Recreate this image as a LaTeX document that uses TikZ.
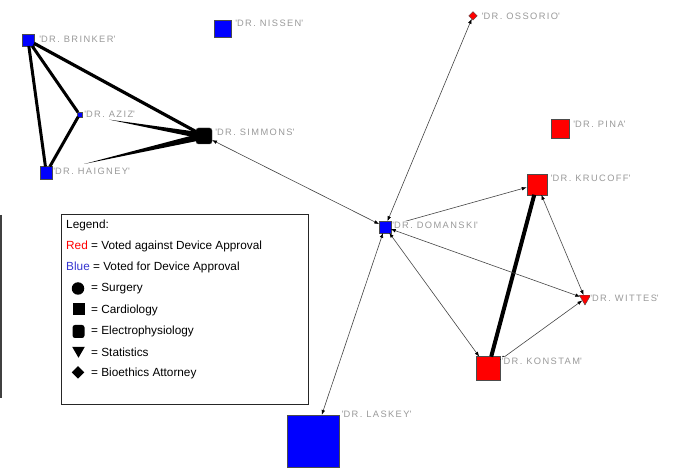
\documentclass[tikz,border=0pt]{standalone}
\usepackage{fontspec}
\setmainfont{Liberation Sans}
\newfontfamily\labelfont[LetterSpace=15]{Liberation Sans}
\usetikzlibrary{shapes.geometric,arrows.meta,calc}

\definecolor{nodeblue}{HTML}{0000FF}
\definecolor{nodered}{HTML}{FF0000}
\definecolor{labelgray}{HTML}{9A9A9A}
\definecolor{edgegray}{HTML}{444444}
\definecolor{legendblue}{HTML}{3535D0}

\tikzset{
  vertex/.style={draw=black!70, line width=0.4pt, inner sep=0pt, outer sep=0pt},
  sqv/.style={vertex, rectangle, minimum size=#1},
  rsqv/.style={vertex, rectangle, rounded corners=2.5pt, minimum size=#1},
  triv/.style={vertex, regular polygon, regular polygon sides=3, shape border rotate=180, minimum size=#1},
  diav/.style={vertex, diamond, minimum size=#1},
  tie/.style={draw=black, line width=#1},
  headtip/.tip={Latex[length=5pt,width=3.6pt,color=black]},
  link/.style={draw=edgegray, line width=0.6pt, -headtip},
  dlink/.style={draw=edgegray, line width=0.6pt, headtip-headtip},
  wedgefill/.style={fill=black},
  vlabel/.style={font=\labelfont\fontsize{9.3}{10}\selectfont, text=labelgray, fill=white, inner sep=0.6pt, anchor=west},
  legtext/.style={font=\fontsize{11.8}{13}\selectfont, anchor=west, inner sep=0pt},
  legsym/.style={fill=black, inner sep=0pt, outer sep=0pt},
}

\newcommand{\sq}{\textquotesingle}

\begin{document}
\begin{tikzpicture}[x=1pt,y=-1pt]
\useasboundingbox (0,0) rectangle (678,470);

% vertices
\node[sqv=12pt, fill=nodeblue] (brinker) at (28,40) {};
\node[sqv=17pt, fill=nodeblue] (nissen) at (223,28.5) {};
\node[sqv=4.5pt, fill=nodeblue] (aziz) at (79.5,114.5) {};
\node[rsqv=16pt, fill=black] (simmons) at (204,136) {};
\node[sqv=12.5pt, fill=nodeblue] (haigney) at (46.3,172.8) {};
\node[diav=8.5pt, fill=nodered] (ossorio) at (473,15.8) {};
\node[sqv=18.5pt, fill=nodered] (pina) at (560,128.5) {};
\node[sqv=20.5pt, fill=nodered] (krucoff) at (537,184.5) {};
\node[sqv=11.5pt, fill=nodeblue] (domanski) at (385,227) {};
\node[triv=13pt, fill=nodered] (wittes) at (585,298.5) {};
\node[sqv=24pt, fill=nodered] (konstam) at (488,368.7) {};
\node[sqv=52pt, fill=nodeblue] (laskey) at (313,441) {};

% strong ties
\draw[tie=3.2pt] (brinker) -- (simmons);
\draw[tie=3pt] (brinker) -- (aziz);
\draw[tie=3pt] (brinker) -- (haigney);
\draw[tie=3pt] (aziz) -- (haigney);
\draw[tie=4pt] (konstam) -- (krucoff);

% tapered ties into Simmons
\fill[wedgefill] ($(aziz)!0.24!(simmons)$) -- ($(simmons)!3.2pt!90:(aziz)$) -- ($(simmons)!3.2pt!-90:(aziz)$) -- cycle;
\fill[wedgefill] ($(haigney)!0.24!(simmons)$) -- ($(simmons)!3.5pt!90:(haigney)$) -- ($(simmons)!3.5pt!-90:(haigney)$) -- cycle;

% directed links
\draw[dlink] (domanski) -- (simmons);
\draw[dlink] (domanski) -- (ossorio);
\draw[dlink] (domanski) -- (laskey);
\draw[link] (domanski) -- (krucoff);
\draw[dlink] (domanski) -- (wittes);
\draw[dlink] (domanski) -- (konstam);
\draw[dlink] (krucoff) -- (wittes);
\draw[dlink] (konstam) -- (wittes);

% vertex names
\node[vlabel] (brinkerL) at (38.5,39.5) {\sq DR. BRINKER\sq};
\node[vlabel] (nissenL) at (234.5,23) {\sq DR. NISSEN\sq};
\node[vlabel] (azizL) at (83.5,114.5) {\sq DR. AZIZ\sq};
\node[vlabel] (simmonsL) at (214.5,132.5) {\sq DR. SIMMONS\sq};
\node[vlabel] (haigneyL) at (52.5,171) {\sq DR. HAIGNEY\sq};
\node[vlabel] (ossorioL) at (481,16) {\sq DR. OSSORIO\sq};
\node[vlabel] (pinaL) at (572.5,124.5) {\sq DR. PINA\sq};
\node[vlabel] (krucoffL) at (550,178.5) {\sq DR. KRUCOFF\sq};
\node[vlabel] (domanskiL) at (391.5,225) {\sq DR. DOMANSKI\sq};
\node[vlabel] (wittesL) at (589.5,298) {\sq DR. WITTES\sq};
\node[vlabel] (konstamL) at (501,361) {\sq DR. KONSTAM\sq};
\node[vlabel] (laskeyL) at (341,414) {\sq DR. LASKEY\sq};

% legend
\node[draw=black!85, line width=0.7pt, minimum width=247pt, minimum height=190pt, inner sep=0pt, anchor=north west] (legendbox) at (61,214) {};
\node[legtext] (legtitle) at (66,225) {Legend:};
\node[legtext] (legred) at (66,246) {\textcolor{nodered}{Red} = Voted against Device Approval};
\node[legtext] (legblue) at (66,267) {\textcolor{legendblue}{Blue} = Voted for Device Approval};
\node[legsym, circle, minimum size=12.5pt] (legcircle) at (78,288.5) {};
\node[legsym, rectangle, minimum size=12pt] (legsquare) at (78.5,309) {};
\node[legsym, rectangle, rounded corners=2.5pt, minimum width=12pt, minimum height=13pt] (legrounded) at (78.5,331.5) {};
\node[legsym, regular polygon, regular polygon sides=3, shape border rotate=180, minimum size=14.5pt] (legtri) at (78.5,350.5) {};
\node[legsym, diamond, minimum size=12.5pt] (legdiamond) at (78,372.5) {};
\node[legtext] (legsurg) at (91,289) {= Surgery};
\node[legtext] (legcard) at (91,310) {= Cardiology};
\node[legtext] (legelec) at (91,331) {= Electrophysiology};
\node[legtext] (legstat) at (91,352) {= Statistics};
\node[legtext] (legbio) at (91,373) {= Bioethics Attorney};

% edge rule at the left margin
\draw[line width=1.6pt, black!75] (1,215) -- (1,398);
\end{tikzpicture}
\end{document}
